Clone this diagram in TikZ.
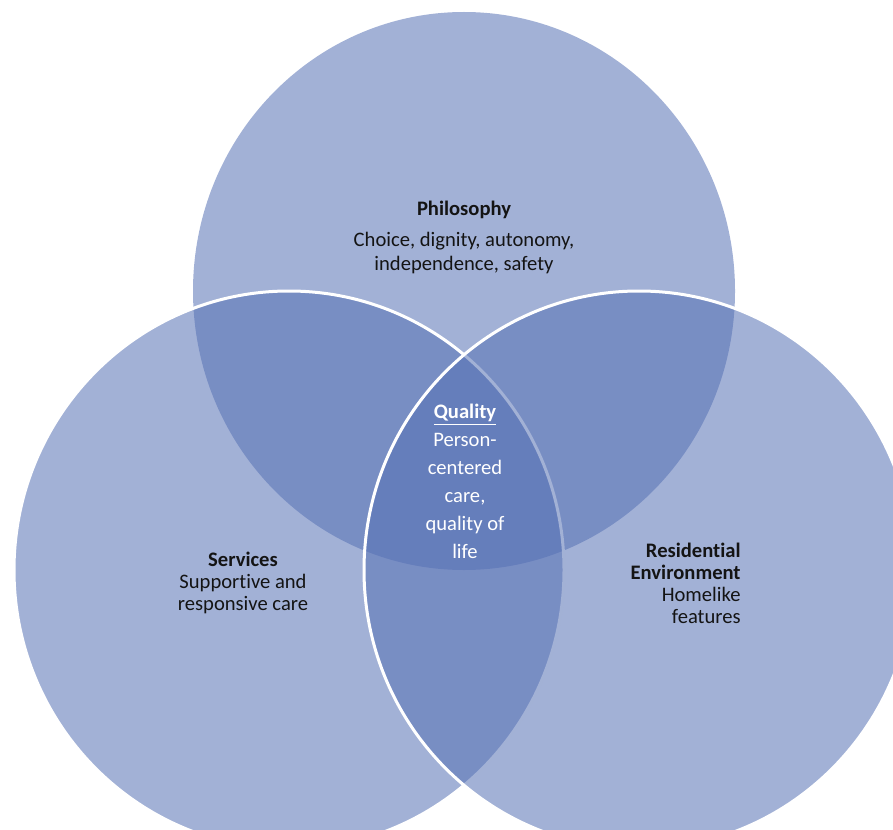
\documentclass[tikz,border=0pt]{standalone}
\usepackage{fontspec}
\setmainfont{Carlito}[Ligatures=NoCommon]
\usepackage{xcolor}
\usetikzlibrary{positioning}

\definecolor{vennblue}{RGB}{86,113,180}
\definecolor{inktext}{RGB}{20,20,20}

\tikzset{
    venn/.style={fill=vennblue, fill opacity=0.55},
    vennline/.style={venn, draw=white, line width=1.5pt},
    vtext/.style={inner sep=0pt, text=inktext, align=center,
        font=\fontsize{10.3}{11}\selectfont},
    qtext/.style={vtext, text=white, font=\fontsize{10.3}{14}\selectfont}
}

\begin{document}
\begin{tikzpicture}[x=0.5pt, y=-0.5pt]
    \clip (0,0) rectangle (893,829);

    \coordinate (top) at (464,291);
    \coordinate (left) at (289,570);
    \coordinate (right) at (639,570);

    \fill[venn] (top) ellipse (135.5pt and 139.5pt);
    \filldraw[vennline] (left) ellipse (137.5pt and 139.5pt);
    \filldraw[vennline] (right) ellipse (137.5pt and 139.5pt);

    \node[vtext, font=\bfseries\fontsize{10.3}{11}\selectfont] (phil) at (464,210) {Philosophy};
    \node[vtext, font=\fontsize{10.3}{12}\selectfont] (philtext) at (464,253) {Choice, dignity, autonomy,\\independence, safety};

    \node[qtext] (quality) at (465,481) {\underline{\textbf{Quality}}\\Person-\\centered\\care,\\quality of\\life};

    \node[vtext] (services) at (243,583) {\textbf{Services}\\Supportive and\\responsive care};
    \node[vtext, align=right, anchor=east] (resid) at (741,583) {\textbf{Residential}\\\textbf{Environment}\\Homelike\\features};
\end{tikzpicture}
\end{document}
